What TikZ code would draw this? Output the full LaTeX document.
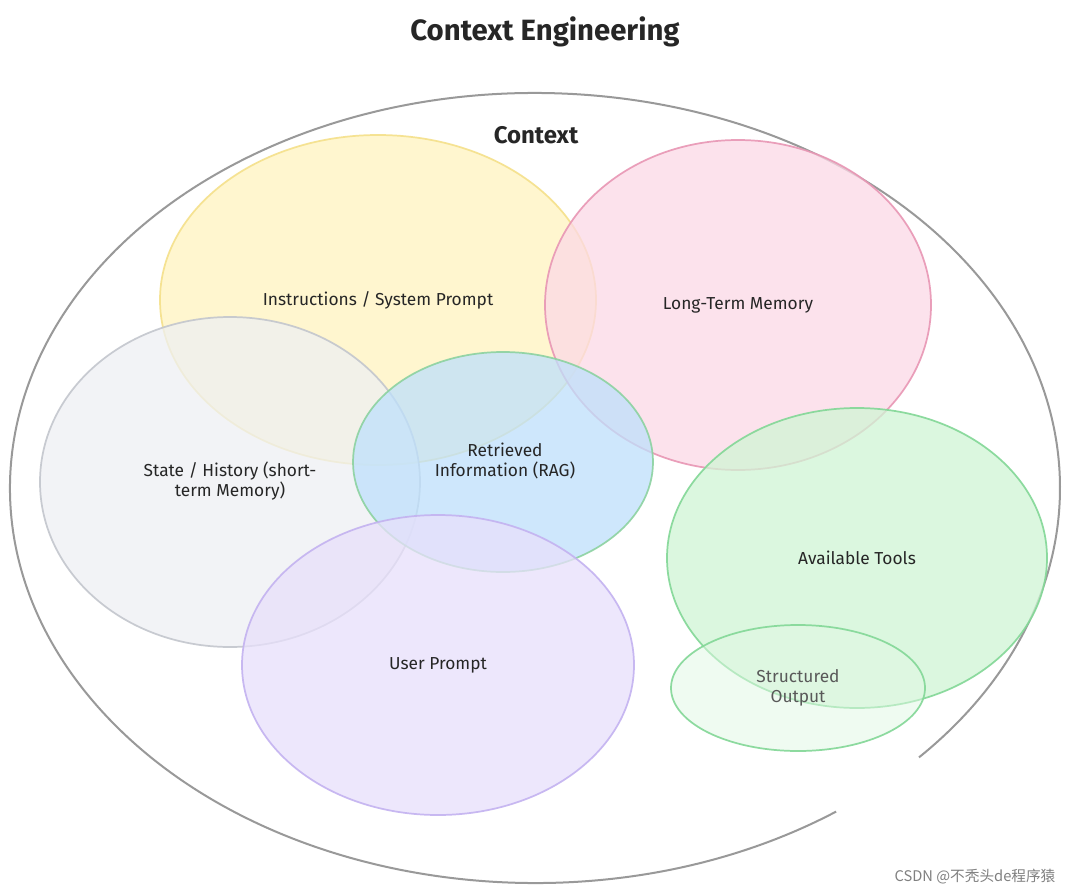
\documentclass[tikz,border=0pt]{standalone}
\usepackage{fontspec}
\setmainfont{Fira Sans}
\newfontfamily\cjk{Noto Sans CJK SC}
\begin{document}
\begin{tikzpicture}[x=0.75pt,y=-0.75pt,
  blob/.style={line width=1.3pt,fill opacity=0.75,draw opacity=0.9},
  lbl/.style={font=\fontsize{13}{15}\selectfont,text=black!85,align=center}]
\useasboundingbox (0,0) rectangle (1080,895);
\fill[white] (0,0) rectangle (1080,895);
% outer context ellipse (open at lower right)
\draw[line width=1.5pt,color=gray!80] (535,488) ++(55:525 and 395) arc[start angle=55,end angle=403,x radius=525,y radius=395];
\node[lbl,font=\fontsize{22}{26}\selectfont\bfseries] (title) at (545,32) {Context Engineering};
\node[lbl,font=\fontsize{18}{22}\selectfont\bfseries] (ctx) at (536,135) {Context};
% blobs
\draw[blob,fill={rgb,255:red,255;green,243;blue,191},draw={rgb,255:red,245;green,224;blue,138}] (378,300) ellipse[x radius=218,y radius=165];
\draw[blob,fill={rgb,255:red,252;green,217;blue,230},draw={rgb,255:red,232;green,150;blue,180}] (738,305) ellipse[x radius=193,y radius=165];
\draw[blob,fill={rgb,255:red,238;green,240;blue,243},draw={rgb,255:red,195;green,198;blue,205}] (230,482) ellipse[x radius=190,y radius=165];
\draw[blob,fill={rgb,255:red,190;green,224;blue,252},draw={rgb,255:red,140;green,210;blue,160}] (503,462) ellipse[x radius=150,y radius=110];
\draw[blob,fill={rgb,255:red,232;green,224;blue,251},draw={rgb,255:red,195;green,178;blue,240}] (438,665) ellipse[x radius=196,y radius=150];
\draw[blob,fill={rgb,255:red,208;green,245;blue,213},draw={rgb,255:red,130;green,215;blue,150}] (857,558) ellipse[x radius=190,y radius=150];
\draw[blob,fill={rgb,255:red,225;green,248;blue,228},fill opacity=0.5,draw={rgb,255:red,130;green,215;blue,150}] (798,688) ellipse[x radius=127,y radius=63];
% labels
\node[lbl] (ins) at (378,300) {Instructions / System Prompt};
\node[lbl] (ltm) at (738,305) {Long-Term Memory};
\node[lbl] (st) at (230,481) {State / History (short-\\term Memory)};
\node[lbl] (rag) at (505,461) {Retrieved\\Information (RAG)};
\node[lbl] (up) at (438,665) {User Prompt};
\node[lbl] (tools) at (857,558) {Available Tools};
\node[lbl,text=black!65] (so) at (798,688) {Structured\\Output};
\node[font=\fontsize{11}{13}\selectfont\cjk,text=gray] (wm) at (975,877) {CSDN @不秃头de程序猿};
\end{tikzpicture}
\end{document}
